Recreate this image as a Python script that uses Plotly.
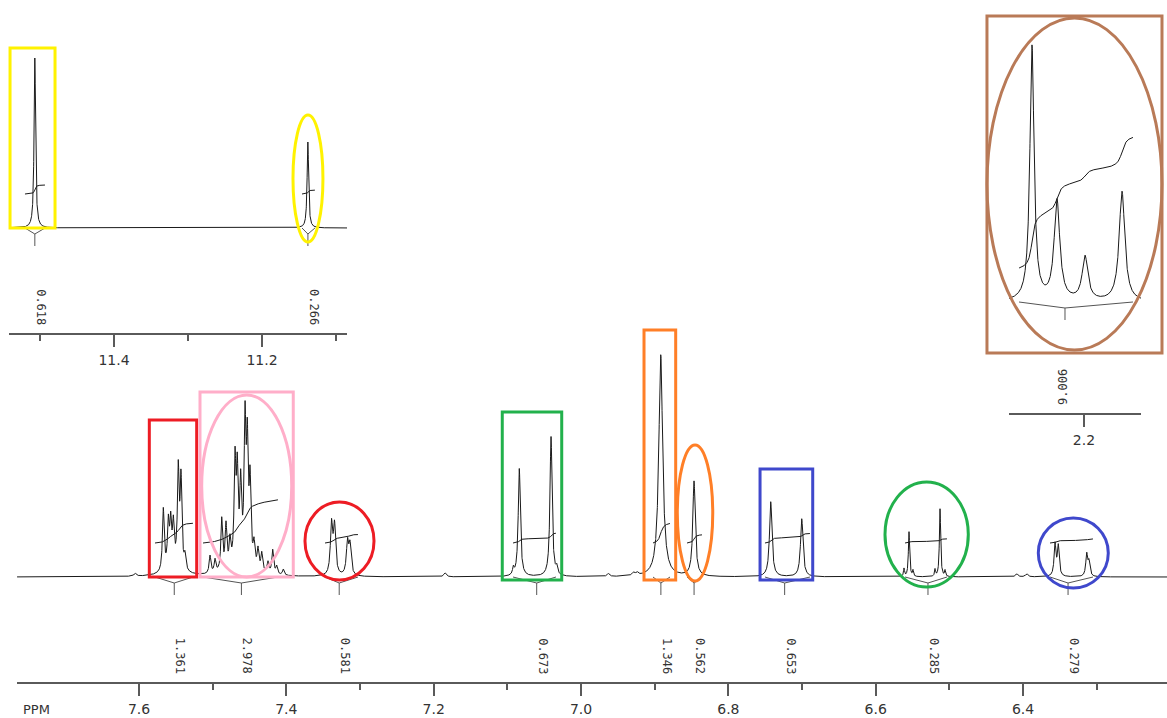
import numpy as np
import plotly.graph_objects as go

W, H = 1167, 718

# ---------------- data: main aromatic region (ppm, height, half-width) ----------------
main_ppm = [7.6054,
            7.5670, 7.5602, 7.5570, 7.5534, 7.5467, 7.5430, 7.5376, 7.5530,
            7.5036, 7.4968, 7.4877, 7.4819, 7.4765, 7.4697, 7.4666, 7.4620, 7.4561,
            7.4530, 7.4493, 7.4439, 7.4385, 7.4334, 7.4249, 7.4185, 7.4131, 7.4041, 7.4600,
            7.3387, 7.3346, 7.3170, 7.3136,
            7.1846,
            7.0919, 7.0838, 7.0407, 7.0330,
            6.9630, 6.9290, 6.9240,
            6.8918, 6.8466,
            6.7425, 6.7004,
            6.5616, 6.5548, 6.5494, 6.5195, 6.5127, 6.5059,
            6.4086, 6.3950,
            6.3566, 6.3522, 6.3136, 6.3105]
main_height = [3,
               62, 44, 42, 40, 96, 88, 14, 8,
               18, 13, 52, 44, 26, 100, 86, 74, 135,
               112, 80, 22, 20, 18, 11, 24, 8, 6, 12,
               50, 48, 32, 29,
               4,
               7, 108, 140, 7,
               3, 3, 3,
               222, 95,
               75, 58,
               8, 45, 6, 7, 68, 6,
               3, 3,
               32, 30, 22, 14]
main_hwhm = [0.002,
             0.0014, 0.0014, 0.0014, 0.0014, 0.0014, 0.0014, 0.0014, 0.012,
             0.0014, 0.0014, 0.0014, 0.0014, 0.0014, 0.0014, 0.0014, 0.0014, 0.0014,
             0.0014, 0.0014, 0.0014, 0.0014, 0.0014, 0.0014, 0.0014, 0.0014, 0.0014, 0.015,
             0.0018, 0.0018, 0.0018, 0.0018,
             0.002,
             0.0012, 0.0017, 0.0017, 0.0012,
             0.002, 0.002, 0.002,
             0.0031, 0.0020,
             0.0020, 0.0020,
             0.0008, 0.0010, 0.0008, 0.0008, 0.0010, 0.0008,
             0.002, 0.002,
             0.0015, 0.0015, 0.0015, 0.0015]

main_int_start = [7.5783, 7.5131, 7.3475, 7.0923, 6.9023, 6.8561, 6.7503, 6.5602, 6.3634]
main_int_end = [7.5267, 7.4113, 7.3027, 7.0340, 6.8792, 6.8357, 6.6892, 6.5032, 6.3050]
main_int_value = [1.361, 2.978, 0.581, 0.673, 1.346, 0.562, 0.653, 0.285, 0.279]
main_ticks = [7.6, 7.4, 7.2, 7.0, 6.8, 6.6, 6.4]
main_minor_ticks = [7.5, 7.3, 7.1, 6.9, 6.7, 6.5, 6.3]

# ---------------- data: low-field inset ----------------
low_ppm = [11.507, 11.138]
low_height = [170, 86]
low_hwhm = [0.0012, 0.0012]
low_int_start = [11.5203, 11.1459]
low_int_end = [11.4932, 11.1284]
low_int_value = [0.618, 0.266]
low_ticks = [11.4, 11.2]
low_minor_ticks = [11.5, 11.3, 11.1]

# ---------------- data: aliphatic inset ----------------
ali_ppm = [2.2706, 2.2367, 2.1986, 2.1484]
ali_height = [255, 100, 44, 110]
ali_hwhm = [0.0034, 0.0046, 0.0046, 0.0046]
ali_int_start = [2.2882]
ali_int_end = [2.1335]
ali_int_value = [9.006]
ali_ticks = [2.2]
ali_minor_ticks = []

# ---------------- panel geometry ----------------
panels = {
    "main": dict(xa="x", ya="y", xdom=[17 / W, 1.0], xr=[7.7656, 6.2046],
                 ydom=[1 - 682 / H, 1 - 320 / H], yr=[-105, 257]),
    "low": dict(xa="x2", ya="y2", xdom=[9 / W, 347 / W], xr=[11.5419, 11.0851],
                ydom=[1 - 333 / H, 1 - 20 / H], yr=[-105, 208]),
    "ali": dict(xa="x3", ya="y3", xdom=[1009 / W, 1141 / W], xr=[2.3018, 2.1226],
                ydom=[1 - 413 / H, 1 - 5 / H], yr=[-111, 297]),
}

LINE = "#1a1a1a"
AXC = "#5a5a5a"
INT_BASE = 34
INT_SCALE = 14.5


def spectrum(xr, ppm, hgt, hw):
    x = np.arange(xr[1], xr[0], 0.0001)[::-1]
    y = np.zeros_like(x)
    for p, h, w in zip(ppm, hgt, hw):
        y += h / (1 + ((x - p) / w) ** 2)
    return x, y


fig = go.Figure()
annotations = []


def add_panel(key, ppm, hgt, hw, s_list, e_list, vals, label_angle):
    P = panels[key]
    x, y = spectrum(P["xr"], ppm, hgt, hw)
    fig.add_trace(go.Scatter(x=x, y=y, mode="lines", xaxis=P["xa"], yaxis=P["ya"],
                             line=dict(color=LINE, width=1), hoverinfo="skip"))
    bx, by, ix, iy = [], [], [], []
    for a, b, v in zip(s_list, e_list, vals):
        m = (x <= a) & (x >= b)
        xs, ys = x[m], y[m]
        c = float(np.sum(xs * ys) / np.sum(ys))
        cum = np.concatenate([[0], np.cumsum((ys[1:] + ys[:-1]) / 2)])
        cum = cum / cum[-1]
        ix += list(xs) + [None]
        iy += list(INT_BASE + INT_SCALE * v * cum) + [None]
        bx += [a, c, b, None, c, c, None]
        by += [0, -6, 0, None, -6, -18, None]
        annotations.append(dict(x=c, y=P["yr"][0] + 26, xref=P["xa"], yref=P["ya"],
                                text=f"{v:.3f}", showarrow=False, textangle=label_angle,
                                xshift=6 if label_angle == 90 else -2,
                                font=dict(family="DejaVu Sans Mono", size=12, color="#333")))
    fig.add_trace(go.Scatter(x=ix, y=iy, mode="lines", xaxis=P["xa"], yaxis=P["ya"],
                             line=dict(color=LINE, width=1), hoverinfo="skip"))
    fig.add_trace(go.Scatter(x=bx, y=by, mode="lines", xaxis=P["xa"], yaxis=P["ya"],
                             line=dict(color="#555", width=1), hoverinfo="skip"))


add_panel("main", main_ppm, main_height, main_hwhm, main_int_start, main_int_end, main_int_value, 90)
add_panel("low", low_ppm, low_height, low_hwhm, low_int_start, low_int_end, low_int_value, 90)
add_panel("ali", ali_ppm, ali_height, ali_hwhm, ali_int_start, ali_int_end, ali_int_value, -90)


def to_paper(key, px, py):
    P = panels[key]
    fx = (px - P["xr"][0]) / (P["xr"][1] - P["xr"][0])
    fy = (py - P["yr"][0]) / (P["yr"][1] - P["yr"][0])
    return (P["xdom"][0] + fx * (P["xdom"][1] - P["xdom"][0]),
            P["ydom"][0] + fy * (P["ydom"][1] - P["ydom"][0]))


YEL, RED, PINK, GRN, ORG, BLU, BRN = "#fff200", "#ed1c24", "#ffaec9", "#22b14c", "#ff7f27", "#3f48cc", "#b97a57"
highlights = [
    ("low", "rect", 11.5405, 11.4797, 0, 180, YEL),
    ("low", "circle", 11.1581, 11.1176, -14, 113, YEL),
    ("ali", "rect", 2.3317, 2.0941, -51, 286, BRN),
    ("ali", "circle", 2.3317, 2.0941, -48, 284, BRN),
    ("main", "rect", 7.5860, 7.5217, 0, 157, RED),
    ("main", "rect", 7.5172, 7.3906, 0, 185, PINK),
    ("main", "circle", 7.5149, 7.3927, 0, 182, PINK),
    ("main", "circle", 7.3747, 7.2810, -3, 75, RED),
    ("main", "rect", 7.1069, 7.0262, -3, 165, GRN),
    ("main", "rect", 6.9145, 6.8715, -3, 247, ORG),
    ("main", "circle", 6.8693, 6.8212, -4, 132, ORG),
    ("main", "rect", 6.7570, 6.6855, -3, 108, BLU),
    ("main", "circle", 6.5874, 6.4743, -10, 95, GRN),
    ("main", "circle", 6.3793, 6.2843, -11, 59, BLU),
]
shapes = []
for key, typ, x0, x1, y0, y1, col in highlights:
    px0, py0 = to_paper(key, x0, y0)
    px1, py1 = to_paper(key, x1, y1)
    shapes.append(dict(type=typ, xref="paper", yref="paper", x0=px0, x1=px1, y0=py0, y1=py1,
                       line=dict(color=col, width=3), fillcolor="rgba(0,0,0,0)", layer="above"))

annotations.append(dict(x=21 / W, y=1 - 709 / H, xref="paper", yref="paper", text="PPM",
                        showarrow=False, xanchor="left", yanchor="middle",
                        font=dict(family="DejaVu Sans", size=13, color="#333")))


def xaxis_style(key, ticks, minor_ticks):
    P = panels[key]
    d = dict(domain=P["xdom"], range=P["xr"], anchor=P["ya"], showline=True, linecolor=AXC,
             linewidth=1.5, ticks="outside", ticklen=12, tickwidth=1.5, tickcolor=AXC,
             tickvals=ticks, ticktext=[f"{t:.1f}" for t in ticks], showgrid=False, zeroline=False,
             tickfont=dict(family="DejaVu Sans", size=14, color="#333"), ticklabelstandoff=1,
             fixedrange=True)
    if minor_ticks:
        d["minor"] = dict(tickvals=minor_ticks, ticks="outside", ticklen=6, tickwidth=1.5,
                          tickcolor=AXC, showgrid=False)
    return d


def yaxis_style(key):
    P = panels[key]
    return dict(domain=P["ydom"], range=P["yr"], anchor=P["xa"], visible=False, fixedrange=True)


fig.update_layout(
    width=W, height=H, margin=dict(l=0, r=0, t=0, b=0),
    paper_bgcolor="white", plot_bgcolor="rgba(0,0,0,0)", showlegend=False,
    xaxis=xaxis_style("main", main_ticks, main_minor_ticks),
    xaxis2=xaxis_style("low", low_ticks, low_minor_ticks),
    xaxis3=xaxis_style("ali", ali_ticks, ali_minor_ticks),
    yaxis=yaxis_style("main"), yaxis2=yaxis_style("low"), yaxis3=yaxis_style("ali"),
    shapes=shapes, annotations=annotations,
)

fig.write_html("out.html", config={"displayModeBar": False},
               post_script="document.body.style.margin='0px';document.body.style.overflow='hidden';")
